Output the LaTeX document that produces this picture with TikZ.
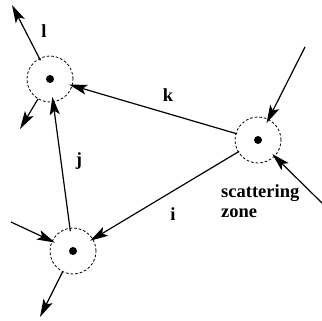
\documentclass[tikz,border=0pt]{standalone}
\usepackage{fontspec}
\setmainfont{Liberation Serif}
\usetikzlibrary{arrows.meta}
\begin{document}
\begin{tikzpicture}[x=1pt,y=-1pt,
  zone/.style={circle,draw,dashed,dash pattern=on 2.6pt off 2pt,line width=0.8pt,
    minimum size=46pt,inner sep=0pt,outer sep=0pt},
  centre/.style={circle,fill=black,minimum size=8pt,inner sep=0pt},
  ray/.style={line width=1.2pt,-{Stealth[length=18pt,width=10pt,inset=4pt]}},
  lbl/.style={font=\fontsize{18.5}{21}\selectfont\bfseries,inner sep=0pt}]
\useasboundingbox (0,0) rectangle (322,321);

% scattering zones with their centres
\node[zone] (L) at (50,79) {};
\node[zone] (R) at (258,140) {};
\node[zone] (B) at (73,251) {};
\node[centre] at (L) {};
\node[centre] at (R) {};
\node[centre] at (B) {};

% free ends of the external rays
\coordinate (lout) at (12,5);
\coordinate (ldown) at (20,129);
\coordinate (rtop) at (305,47);
\coordinate (rright) at (322,203);
\coordinate (bleft) at (11,222);
\coordinate (bdown) at (40,317);

% internal propagation between zones
\draw[ray,shorten <=-1pt,shorten >=-3pt] (R) -- (L);
\draw[ray,shorten <=-1pt,shorten >=-3pt] (R) -- (B);
\draw[ray,shorten <=-3pt,shorten >=-5pt] (B) -- (L);

% external rays
\draw[ray,shorten <=-2pt] (L) -- (lout);
\draw[ray] (L) -- (ldown);
\draw[ray,shorten >=-4pt] (rtop) -- (R);
\draw[ray,shorten >=-3pt] (rright) -- (R);
\draw[ray,shorten >=-3pt] (bleft) -- (B);
\draw[ray] (B) -- (bdown);

% labels
\node[lbl] (tl) at (44,31) {l};
\node[lbl] (tk) at (168,95) {k};
\node[lbl] (tj) at (79,161) {j};
\node[lbl] (ti) at (173,214) {i};
\node[lbl,anchor=base west] (ts) at (221,197) {scattering};
\node[lbl,anchor=base west] (tz) at (221,218) {zone};
\end{tikzpicture}
\end{document}
